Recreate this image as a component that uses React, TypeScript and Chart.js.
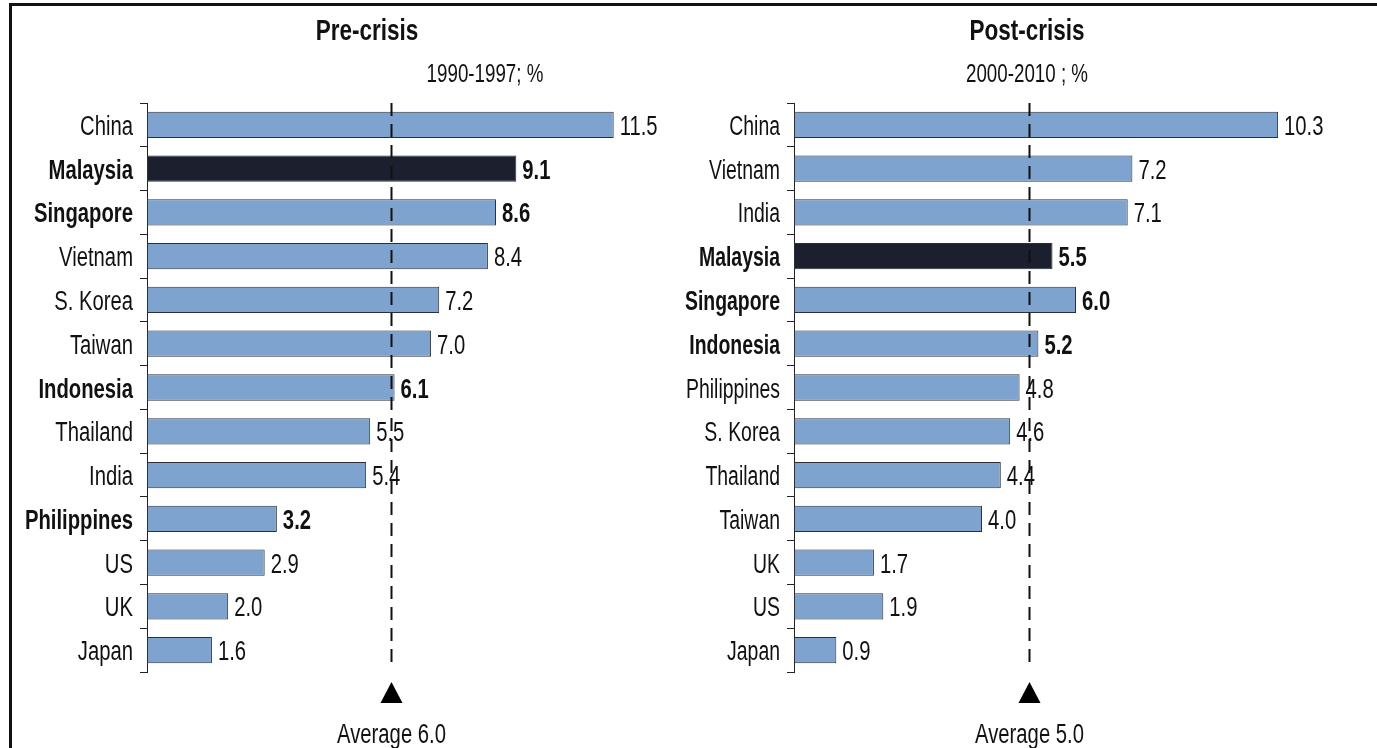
import React, { useEffect, useRef } from "react";
import { Chart, registerables } from "chart.js";
Chart.register(...registerables);

const preCountries = ["China", "Malaysia", "Singapore", "Vietnam", "S. Korea", "Taiwan", "Indonesia", "Thailand", "India", "Philippines", "US", "UK", "Japan"];
const preValues = [11.5, 9.1, 8.6, 8.4, 7.2, 7.0, 6.1, 5.5, 5.4, 3.2, 2.9, 2.0, 1.6];
const preBold = ["Malaysia", "Singapore", "Indonesia", "Philippines"];
const preAverage = 6.0;
const preTitle = "Pre-crisis";
const preSubtitle = "1990-1997; %";

const postCountries = ["China", "Vietnam", "India", "Malaysia", "Singapore", "Indonesia", "Philippines", "S. Korea", "Thailand", "Taiwan", "UK", "US", "Japan"];
const postValues = [10.3, 7.2, 7.1, 5.5, 6.0, 5.2, 4.8, 4.6, 4.4, 4.0, 1.7, 1.9, 0.9];
const postBold = ["Malaysia", "Singapore", "Indonesia"];
const postAverage = 5.0;
const postTitle = "Post-crisis";
const postSubtitle = "2000-2010 ; %";

const darkCountry = "Malaysia";

const FAMILY = '"Liberation Sans", Arial, Helvetica, sans-serif';
const SQUEEZE = 0.75;
const BAR = "#7fa3cf";
const DARK = "#1b1f2e";

function drawText(ctx: CanvasRenderingContext2D, s: string, x: number, y: number, align: CanvasTextAlign, bold: boolean, size: number, squeeze = SQUEEZE) {
  ctx.save();
  ctx.translate(x, y);
  ctx.scale(squeeze, 1);
  ctx.font = `${bold ? "bold " : ""}${size}px ${FAMILY}`;
  ctx.textAlign = align;
  ctx.textBaseline = "alphabetic";
  ctx.fillStyle = "#111";
  ctx.fillText(s, 0, 0);
  ctx.restore();
}

type PanelProps = {
  labels: string[];
  values: number[];
  bold: string[];
  avg: number;
  title: string;
  subtitle: string;
  left: number;
  width: number;
  axisLeft: number;
  xMax: number;
  padRight: number;
  titleX: number;
  subtitleX: number;
  labelSqueeze: number;
};

function Panel(p: PanelProps) {
  const ref = useRef<HTMLCanvasElement | null>(null);
  useEffect(() => {
    if (!ref.current) return;
    const overlay = {
      id: "overlay",
      afterDraw(chart: any) {
        const ctx: CanvasRenderingContext2D = chart.ctx;
        const xs = chart.scales.x;
        const ys = chart.scales.y;
        const area = chart.chartArea;
        ctx.save();
        // titles
        drawText(ctx, p.title, p.titleX, 40, "center", true, 30);
        drawText(ctx, p.subtitle, p.subtitleX, 82, "center", false, 25);
        // category labels
        p.labels.forEach((l, i) => {
          const y = ys.getPixelForTick(i);
          drawText(ctx, l, area.left - 14, y + 10, "right", p.bold.includes(l), 27, p.labelSqueeze);
        });
        // value labels
        const meta = chart.getDatasetMeta(0);
        meta.data.forEach((el: any, i: number) => {
          const isBold = p.bold.includes(p.labels[i]);
          drawText(ctx, p.values[i].toFixed(1), el.x + 6, el.y + 10, "left", isBold, 27);
        });
        // average line
        const ax = Math.round(xs.getPixelForValue(p.avg)) + 0.5;
        ctx.strokeStyle = "#111";
        ctx.lineWidth = 2;
        ctx.setLineDash([13, 8]);
        ctx.beginPath();
        ctx.moveTo(ax, area.top);
        ctx.lineTo(ax, area.bottom - 4);
        ctx.stroke();
        ctx.setLineDash([]);
        // triangle
        ctx.fillStyle = "#000";
        ctx.beginPath();
        ctx.moveTo(ax, 682);
        ctx.lineTo(ax - 11, 703);
        ctx.lineTo(ax + 11, 703);
        ctx.closePath();
        ctx.fill();
        // average text
        drawText(ctx, `Average ${p.avg.toFixed(1)}`, ax, 743, "center", false, 27);
        ctx.restore();
      },
    };
    const chart = new Chart(ref.current, {
      type: "bar",
      data: {
        labels: p.labels,
        datasets: [
          {
            data: p.values,
            backgroundColor: p.labels.map((l) => (l === darkCountry ? DARK : BAR)),
            borderColor: "#2a2f3a",
            borderWidth: 1,
            borderSkipped: false,
            barPercentage: 0.6,
            categoryPercentage: 1,
          },
        ],
      },
      options: {
        indexAxis: "y",
        responsive: false,
        animation: false,
        layout: { padding: { top: 103, bottom: 76, left: 0, right: p.padRight } },
        plugins: { legend: { display: false }, tooltip: { enabled: false } },
        scales: {
          x: { display: false, min: 0, max: p.xMax },
          y: {
            afterFit: (s: any) => {
              s.width = p.axisLeft;
            },
            grid: { display: true, drawOnChartArea: false, offset: true, tickLength: 7, color: "#222", lineWidth: 1 },
            border: { display: true, color: "#222", width: 1 },
            ticks: { color: "rgba(0,0,0,0)", padding: 6, font: { family: FAMILY, size: 12 } },
          },
        },
      },
      plugins: [overlay],
    } as any);
    return () => chart.destroy();
  }, []);
  return (
    <canvas
      ref={ref}
      width={p.width}
      height={748}
      style={{ position: "absolute", left: p.left, top: 0, width: p.width, height: 748 }}
    />
  );
}

export default function App() {
  return (
    <div style={{ position: "fixed", left: 0, top: 0, width: 1377, height: 748, background: "#fff", overflow: "hidden" }}>
      <Panel
        labels={preCountries}
        values={preValues}
        bold={preBold}
        avg={preAverage}
        title={preTitle}
        subtitle={preSubtitle}
        left={0}
        width={670}
        axisLeft={147}
        xMax={12}
        padRight={36}
        titleX={367}
        subtitleX={485}
        labelSqueeze={0.75}
      />
      <Panel
        labels={postCountries}
        values={postValues}
        bold={postBold}
        avg={postAverage}
        title={postTitle}
        subtitle={postSubtitle}
        left={670}
        width={707}
        axisLeft={124}
        xMax={11}
        padRight={66}
        titleX={357}
        subtitleX={357}
        labelSqueeze={0.72}
      />
      <div style={{ position: "absolute", left: 9, top: 3, width: 1368, height: 3, background: "#111" }} />
      <div style={{ position: "absolute", left: 9, top: 3, width: 3, height: 745, background: "#111" }} />
    </div>
  );
}
